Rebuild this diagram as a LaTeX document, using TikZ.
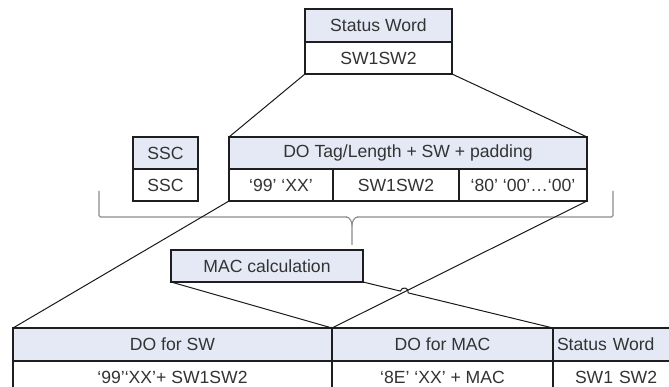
\documentclass[tikz,border=0pt]{standalone}
\usepackage{fontspec}
\setmainfont{Liberation Sans}
\definecolor{hdr}{HTML}{E4E9F5}
\definecolor{edge}{HTML}{1E1E1E}
\definecolor{txt}{HTML}{333333}
\definecolor{brc}{HTML}{8C8C8C}
\begin{document}
\begin{tikzpicture}[x=1pt,y=-1pt,
  cell/.style={draw=edge,line width=1.3pt,inner sep=0pt,outer sep=0pt,
    text=txt,font=\fontsize{17.6}{20}\selectfont,anchor=center},
  head/.style={cell,fill=hdr},
  body/.style={cell,fill=white},
  link/.style={draw=black!90,line width=1pt},
  bracepath/.style={draw=brc,line width=1.1pt,rounded corners=1.5pt}]
\useasboundingbox (0,0) rectangle (669,387);
% top status word
\node[head,minimum width=147pt,minimum height=33pt] (swh) at (378.5,25.5) {Status Word};
\node[body,minimum width=147pt,minimum height=32pt] (swv) at (378.5,58) {SW1SW2};
% SSC
\node[head,minimum width=65pt,minimum height=32pt] (ssch) at (165.5,153) {SSC};
\node[body,minimum width=65pt,minimum height=32pt] (sscv) at (165.5,185) {SSC};
% DO tag/length
\node[head,minimum width=358pt,minimum height=32pt] (doh) at (408,153) {DO Tag/Length + SW + padding};
\node[body,minimum width=104pt,minimum height=32pt] (do1) at (281,185) {‘99’ ‘XX’};
\node[body,minimum width=126pt,minimum height=32pt] (do2) at (396,185) {SW1SW2};
\node[body,minimum width=128pt,minimum height=32pt] (do3) at (523,185) {‘80’ ‘00’…‘00’};
% brace
\draw[bracepath] (99,191) -- (99,217) -- (347,217);
\draw[draw=brc,line width=1.1pt] (346,217) to[out=0,in=90] (352,226) -- (352,245);
\draw[draw=brc,line width=1.1pt] (352,226) to[out=90,in=180] (358,217);
\draw[bracepath] (357,217) -- (613,217) -- (613,191);
% MAC calculation
\node[head,minimum width=192pt,minimum height=32pt] (mac) at (267,266) {MAC calculation};
% bottom table
\node[head,minimum width=319pt,minimum height=33pt] (b1h) at (172.5,344.5) {DO for SW};
\node[body,minimum width=319pt,minimum height=33pt] (b1v) at (172.5,377.5) {‘99’‘XX’+ SW1SW2};
\node[head,minimum width=221pt,minimum height=33pt] (b2h) at (442.5,344.5) {DO for MAC};
\node[body,minimum width=221pt,minimum height=33pt] (b2v) at (442.5,377.5) {‘8E’ ‘XX’ + MAC};
\node[head,minimum width=127pt,minimum height=33pt,text width=127pt,align=left] (b3h) at (616.5,344.5) {\hspace{4pt}Status Word};
\node[body,minimum width=127pt,minimum height=33pt,text width=127pt,align=left] (b3v) at (616.5,377.5) {\hspace{22pt}SW1 SW2};
% connectors
\draw[link] (swv.south west) -- (doh.north west);
\draw[link] (swv.south east) -- (doh.north east);
\draw[link] (do1.south west) -- (b1h.north west);
\draw[link] (do3.south east) -- (b2h.north west);
\draw[link] (mac.south west) -- (b2h.north west);
\coordinate (hopA) at (400.4,291.1);
\coordinate (hopB) at (408.2,292.9);
\draw[link] (mac.south east) -- (hopA) .. controls (401.65,285.9) and (409.45,287.7) .. (hopB) -- (b3h.north west);
\end{tikzpicture}
\end{document}
